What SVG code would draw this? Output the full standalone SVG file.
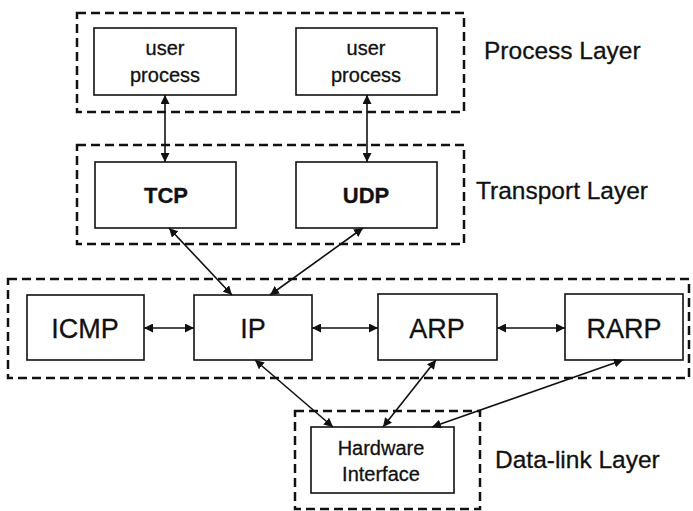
<svg xmlns="http://www.w3.org/2000/svg" width="693" height="511" viewBox="0 0 693 511">
<style>
.layer{fill:none;stroke:#111;stroke-width:2.5;stroke-dasharray:9 5}
.box{fill:#fff;stroke:#111;stroke-width:1.6}
.t{font-family:"Liberation Sans",Arial,sans-serif;fill:#111;text-anchor:middle;stroke:#111;stroke-width:0.3}
.lbl{font-family:"Liberation Sans",Arial,sans-serif;fill:#111;font-size:24.5px;stroke:#111;stroke-width:0.3}
.c{stroke:#111;stroke-width:1.6;fill:none;marker-start:url(#a);marker-end:url(#a)}
</style>
<defs>
<marker id="a" viewBox="0 0 10 10" refX="10" refY="5" markerWidth="9" markerHeight="9" markerUnits="userSpaceOnUse" orient="auto-start-reverse">
<path d="M0,0 L10,5 L0,10 z" fill="#111"/>
</marker>
</defs>
<rect width="693" height="511" fill="#fff"/>
<g id="layers">
<rect id="process-layer" class="layer" x="77" y="13" width="387" height="99"/>
<rect id="transport-layer" class="layer" x="77" y="145" width="387" height="99"/>
<rect id="network-layer" class="layer" x="8" y="279" width="681" height="99"/>
<rect id="datalink-layer" class="layer" x="295" y="411" width="185" height="98"/>
</g>
<g id="layer-labels">
<text class="lbl" x="484" y="59">Process Layer</text>
<text class="lbl" x="476" y="199">Transport Layer</text>
<text class="lbl" x="495" y="468">Data-link Layer</text>
</g>
<g id="user1">
<rect class="box" x="94" y="28" width="142" height="67"/>
<text class="t" x="165" y="55" font-size="20">user</text>
<text class="t" x="165" y="82" font-size="20">process</text>
</g>
<g id="user2">
<rect class="box" x="296" y="28" width="141" height="67"/>
<text class="t" x="366" y="55" font-size="20">user</text>
<text class="t" x="366" y="82" font-size="20">process</text>
</g>
<g id="tcp">
<rect class="box" x="95" y="162" width="141" height="66"/>
<text class="t" x="166" y="203" font-size="22" font-weight="bold">TCP</text>
</g>
<g id="udp">
<rect class="box" x="296" y="162" width="141" height="66"/>
<text class="t" x="366" y="203" font-size="22" font-weight="bold">UDP</text>
</g>
<g id="icmp">
<rect class="box" x="27" y="295" width="117" height="65"/>
<text class="t" x="85" y="338" font-size="27">ICMP</text>
</g>
<g id="ip">
<rect class="box" x="194" y="295" width="118" height="65"/>
<text class="t" x="253" y="338" font-size="27">IP</text>
</g>
<g id="arp">
<rect class="box" x="378" y="294" width="119" height="66"/>
<text class="t" x="437" y="338" font-size="27">ARP</text>
</g>
<g id="rarp">
<rect class="box" x="565" y="294" width="118" height="66"/>
<text class="t" x="624" y="338" font-size="27">RARP</text>
</g>
<g id="hardware">
<rect class="box" x="311" y="427" width="143" height="66"/>
<text class="t" x="381" y="455" font-size="20">Hardware</text>
<text class="t" x="381" y="481" font-size="20">Interface</text>
</g>
<g id="connectors">
<line class="c" x1="165" y1="95" x2="165" y2="162"/>
<line class="c" x1="367" y1="95" x2="367" y2="162"/>
<line class="c" x1="169" y1="228" x2="232" y2="295"/>
<line class="c" x1="363" y1="228" x2="270" y2="295"/>
<line class="c" x1="144" y1="328" x2="194" y2="328"/>
<line class="c" x1="312" y1="328" x2="378" y2="328"/>
<line class="c" x1="497" y1="328" x2="565" y2="328"/>
<line class="c" x1="255" y1="360" x2="333" y2="427"/>
<line class="c" x1="436" y1="360" x2="383" y2="427"/>
<line class="c" x1="623" y1="360" x2="432" y2="427"/>
</g>
</svg>
